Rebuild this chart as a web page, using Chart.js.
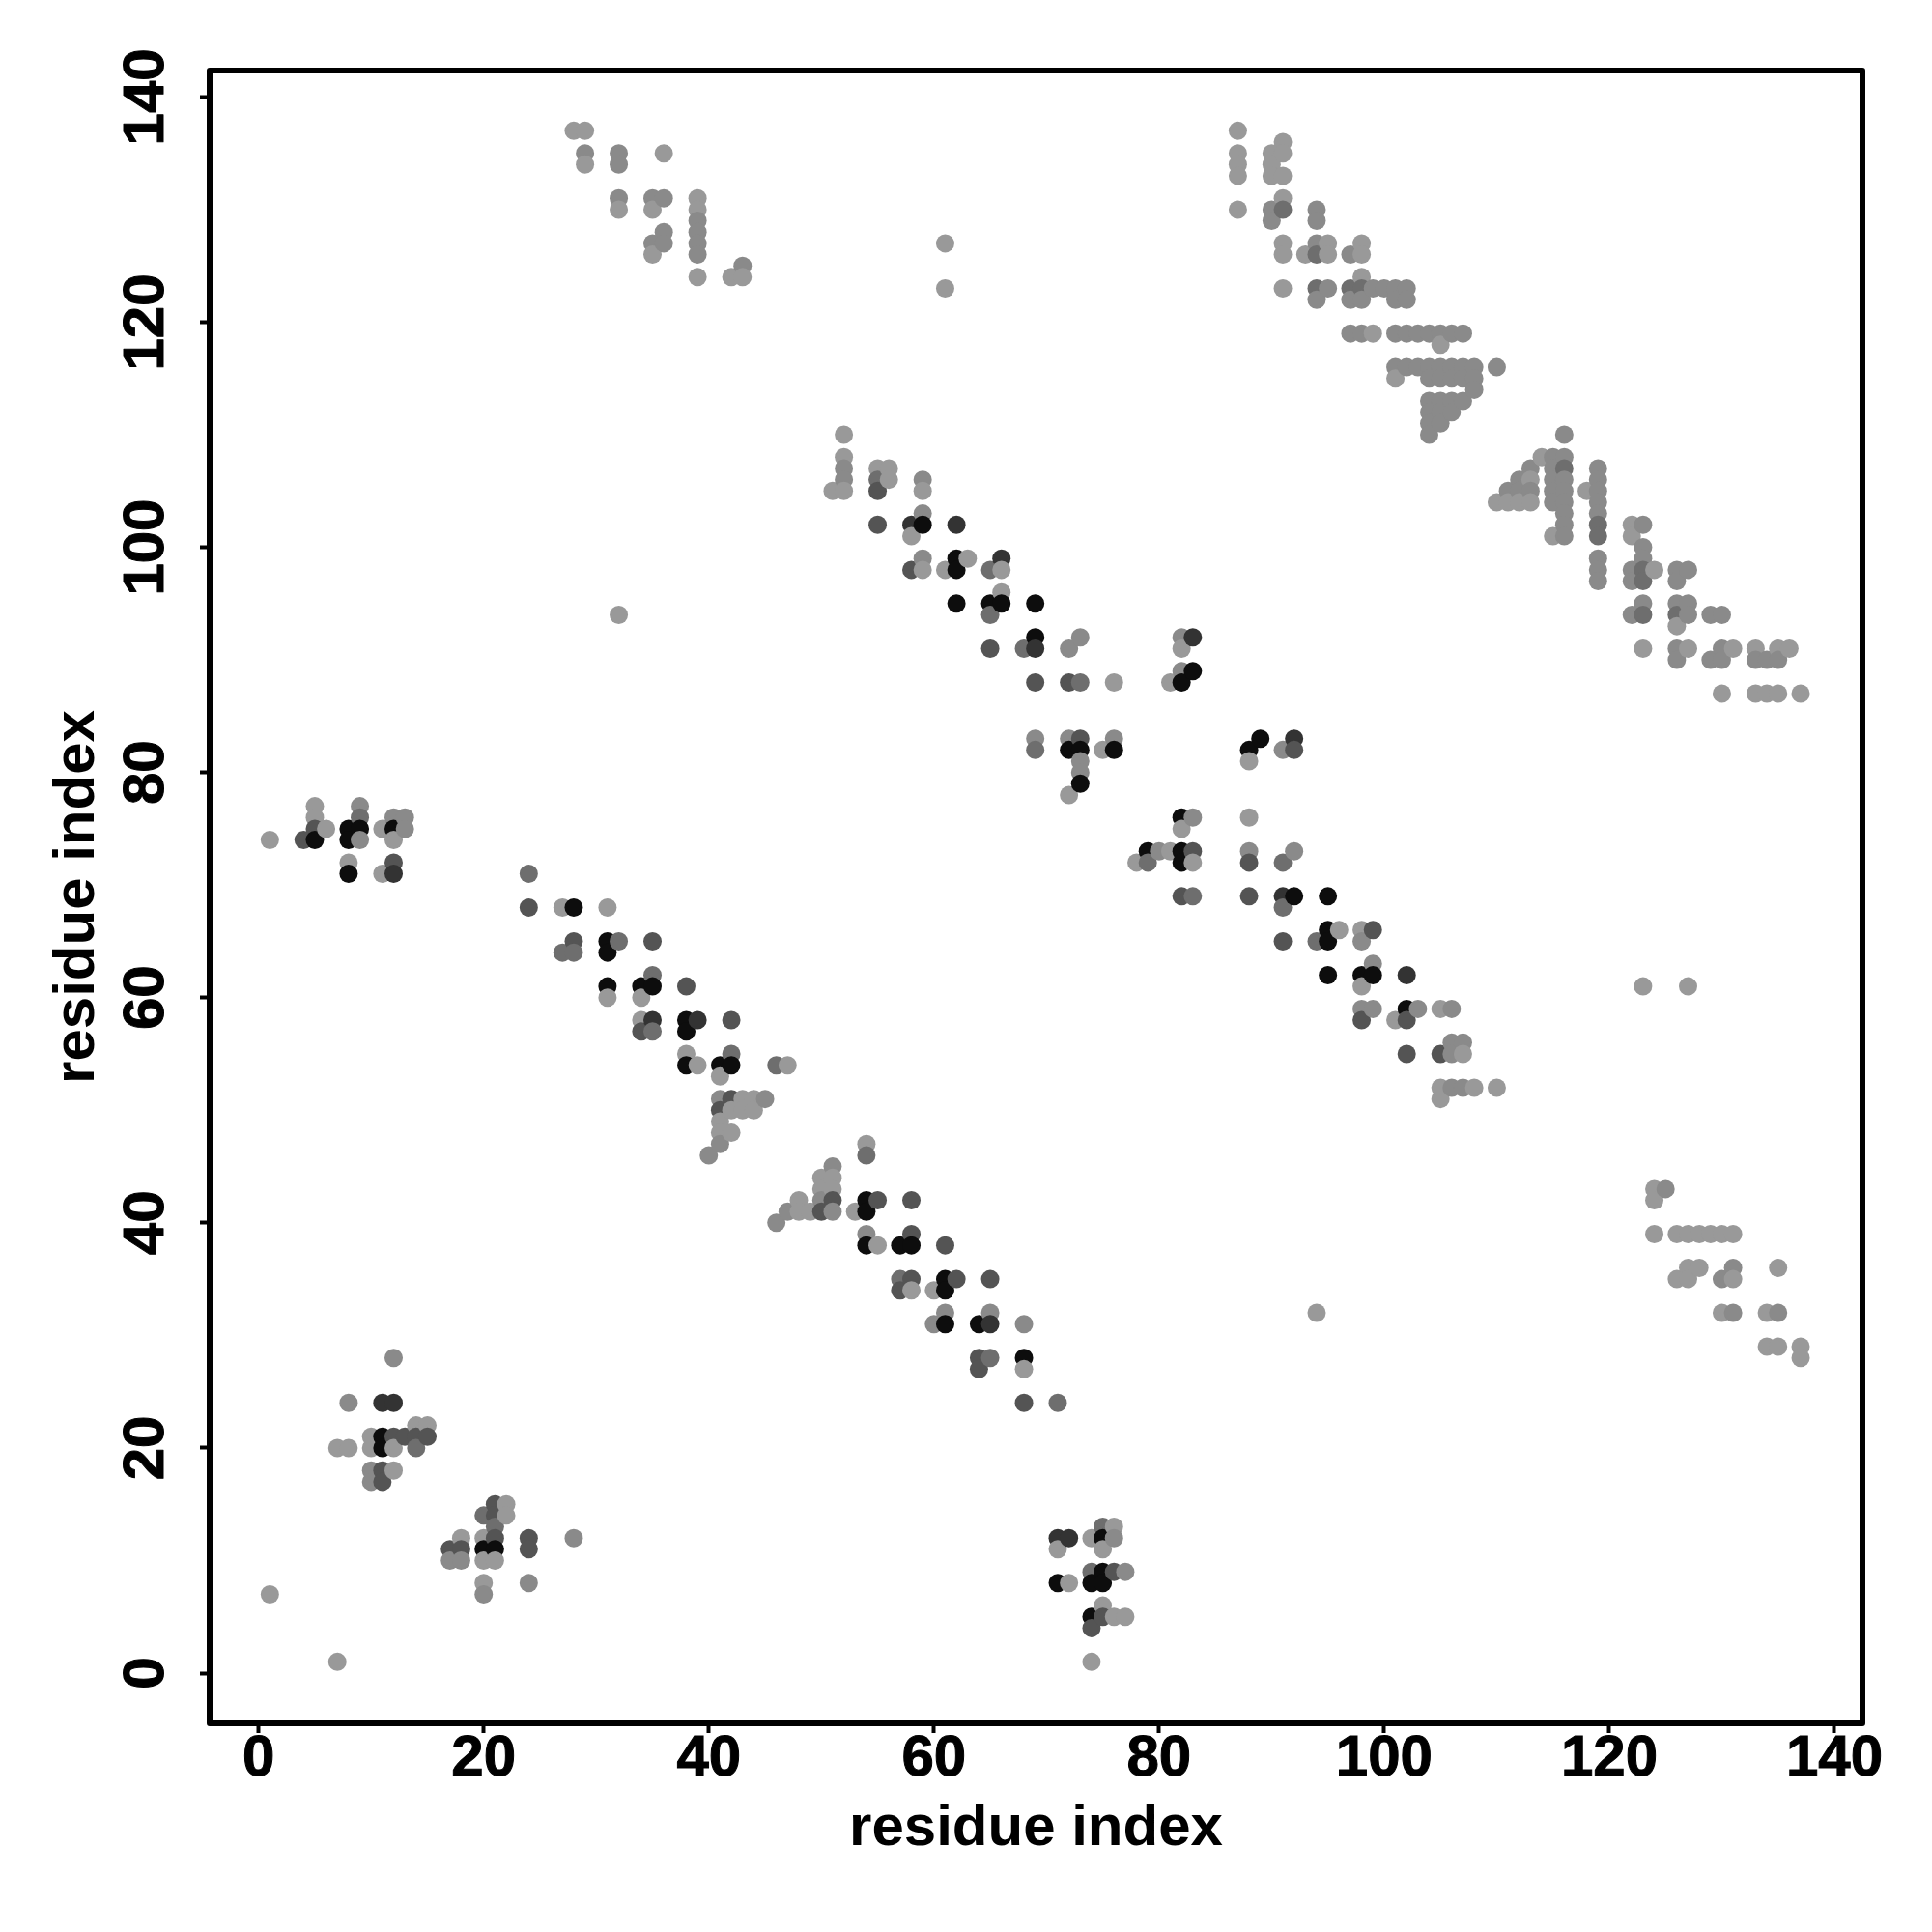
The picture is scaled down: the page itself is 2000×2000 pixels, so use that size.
<!DOCTYPE html>
<html>
<head>
<meta charset="utf-8">
<style>
  html, body { margin: 0; padding: 0; background: #fff; }
  canvas { display: block; }
</style>
<script src="https://cdn.jsdelivr.net/npm/chart.js@4"></script>
</head>
<body>
<canvas id="grafico" width="2000" height="2000"></canvas>
<script>
// contact map points [residue x, residue y], grouped by how dark they are in the picture
const contactosFaint = [
  [28,137],[29,137],[29,134],[32,130],[35,130],[35,126],[36,135],[39,131],[39,130],[39,124],[42,124],[43,124],[61,127],[61,123],[32,94],
  [1,74],[1,7],[7,1],[5,77],[5,76],[6,75],[11,75],[8,72],[11,71],[12,74],[27,68],[31,68],
  [52,110],[52,108],[51,105],[52,105],[56,107],[56,106],[55,107],[59,105],[58,101],[59,98],[61,98],[63,99],[66,98],[66,96],
  [76,88],[82,91],[81,88],[72,78],[75,82],[88,81],[82,75],[81,73],[78,72],[83,72],[88,76],[96,66],[98,66],[98,61],[101,58],
  [105,59],[107,55],[105,52],[105,51],[108,52],[110,52],[34,60],[31,60],[34,58],[38,55],[39,54],[47,54],[41,53],[43,51],[44,51],
  [42,50],[43,50],[44,50],[41,49],[41,48],[42,48],[50,44],[51,44],[50,43],[51,43],[48,42],[48,41],[49,41],[53,41],[54,47],[55,38],
  [58,34],[60,34],[68,27],[123,61],[127,61],[94,32],[124,43],[124,42],[124,39],[126,39],[127,39],[128,39],[129,39],[130,39],[131,39],
  [127,36],[128,36],[135,36],[126,35],[127,35],[131,35],[130,32],[134,32],[134,29],[135,29],[137,29],[137,28],
  [71,11],[72,8],[74,12],[75,11],[75,6],[76,5],[77,5],[76,13],[74,1],
  [14,22],[15,22],[10,21],[7,20],[8,20],[10,20],[12,20],[12,18],[22,15],[22,14],[18,12],[20,12],[20,10],[21,10],[20,8],
  [87,137],[87,135],[87,134],[87,133],[87,130],[90,135],[90,134],[90,133],[91,136],[91,135],[91,133],[91,131],[91,127],[91,126],
  [93,126],[95,127],[95,126],[98,127],[98,126],[98,124],[91,123],[99,119],[101,115],[105,118],
  [114,108],[113,106],[110,104],[111,104],[112,104],[113,104],[115,101],[118,105],
  [123,91],[122,102],[123,102],[122,101],[124,98],[126,93],[127,91],[131,91],[133,91],[135,91],[136,91],[130,87],[133,87],[134,87],[135,87],[137,87]
];
const contactosPale = [
  [29,135],[32,135],[32,134],[32,131],[35,131],[36,131],[39,129],[39,128],[39,127],[39,126],[36,128],[36,127],[35,127],[43,125],
  [52,107],[52,106],[59,106],[59,103],[59,99],[73,92],[76,83],[72,83],[69,83],[73,81],[73,80],[83,76],[88,73],[92,73],[91,82],[80,73],
  [79,72],[82,89],[82,92],[98,65],[99,63],[98,59],[99,59],[103,59],[106,59],[106,56],[107,56],[106,55],[106,52],[107,52],
  [12,28],[8,24],[24,8],[28,12],[20,7],[10,18],[10,17],[14,20],[17,10],[18,10],[12,76],[13,76],[13,75],[9,74],[9,77],
  [41,51],[41,47],[40,46],[46,40],[47,41],[50,42],[51,41],[51,45],[45,51],[54,39],[61,32],[60,31],[65,32],[68,31],[72,91],[65,98],
  [75,13],[76,12],[77,9],[125,43],[131,36],[130,35],[131,32],[135,32],[71,24],[119,107],[119,106],[119,105],[119,103],[119,99],[119,98],[119,97],
  [90,130],[90,129],[94,130],[94,129],[94,127],[97,126],[95,123],[94,122],[97,122],[98,122],[99,123],[100,123],[101,123],[102,123],[101,122],[102,122],
  [97,119],[98,119],[101,119],[102,119],[103,119],[104,119],[105,119],[106,119],[107,119],
  [101,116],[102,116],[103,116],[104,116],[105,116],[106,116],[107,116],[108,116],[110,116],[104,115],[105,115],[106,115],[107,115],[108,115],[108,114],
  [104,113],[105,113],[106,113],[107,113],[104,112],[105,112],[106,112],[104,111],[105,111],[104,110],
  [116,110],[115,108],[116,108],[113,107],[115,107],[119,104],[112,106],[115,106],[116,106],[111,105],[112,105],[113,105],[115,105],[116,105],
  [115,104],[116,104],[116,103],[116,102],[116,101],[122,98],[123,102],[123,100],[123,99],[122,97],[126,98],[127,98],[126,97],[123,95],[126,95],[127,95],
  [122,94],[127,94],[129,94],[130,94],[126,91],[130,91],[126,90],[129,90],[130,90],[133,90],[134,90],[135,90]
];
const contactosMid = [
  [55,106],[24,71],[69,82],[65,98],[95,66],[94,65],[98,58],[105,55],[64,28],[65,28],[71,24],[74,9],[76,9],[75,13],
  [35,62],[46,54],[54,46],[42,55],[14,20],[13,21],[12,21],[21,13],[20,14],[91,68],[91,72],[92,82],[73,88],[65,94],[83,69],[79,72],
  [28,64],[32,65],[27,64],[35,57],[57,35],[9,76],[94,123],[94,126],[97,123],[98,123],[123,97],[123,98],[123,94],[126,94],[116,107],[119,102],[119,101],
  [68,91],[91,130]
];
const contactosDark = [
  [55,105],[55,102],[58,98],[66,99],[65,91],[69,88],[72,88],[69,91],[82,69],[88,72],[88,69],[83,73],[91,65],[99,66],[98,58],[102,58],[102,55],[105,55],
  [4,74],[5,75],[12,72],[12,71],[24,68],[28,65],[31,65],[35,65],[38,61],[35,58],[39,58],[42,58],[34,57],[41,50],[42,51],[51,42],[50,41],[55,42],[58,42],[58,39],
  [57,34],[62,35],[65,35],[61,38],[64,27],[68,24],[74,4],[75,5],[76,9],[17,11],[18,11],[21,12],[21,14],[21,15],[24,11],[24,12],[11,18],[11,17],[13,21],[14,21],[15,21],
  [11,24],[12,24],[58,35],[92,82],[12,21],[64,28],[73,83]
];
const contactosDeep = [
  [58,102],[62,102],[66,99],[69,91],[83,92],[91,69],[102,62],[57,38],[54,41],[41,54],[39,58],[31,64],[35,58],[58,38],[8,75],[8,74],[12,71],[11,24],[12,24],[65,31],[11,20],
  [92,83],[71,12],[72,12]
];
const contactosBlack = [
  [59,102],[62,99],[62,98],[62,95],[65,95],[66,95],[69,95],[69,92],[83,89],[82,88],[72,82],[73,82],[76,82],[73,79],[88,82],[89,83],
  [82,76],[79,73],[82,73],[82,72],[92,69],[95,69],[95,66],[95,65],[95,62],[98,62],[99,62],[102,59],
  [5,74],[8,75],[9,75],[8,74],[12,75],[8,71],[28,68],[31,65],[31,64],[31,61],[34,61],[35,61],[38,58],[38,57],[38,54],[41,54],[42,54],
  [54,42],[54,41],[54,38],[57,38],[58,38],[61,35],[61,34],[61,31],[64,31],[68,28],[71,8],[74,8],[75,8],[75,9],[75,12],[74,5],
  [11,21],[11,20],[20,11],[21,11]
];

const gruposContacto = [contactosFaint, contactosPale, contactosMid, contactosDark, contactosDeep, contactosBlack];
const colorGrupo = ['#999999', '#8a8a8a', '#6e6e6e', '#545454', '#333333', '#0d0d0d'];
const ticksEje = [0, 20, 40, 60, 80, 100, 120, 140];
const tituloEje = 'residue index';
const fuente = '"Liberation Sans", Arial, sans-serif';

// later groups overwrite earlier ones at the same cell, then sort so the right hand dots land on top
const celdas = new Map();
gruposContacto.forEach((grupo, g) => {
  grupo.forEach(([x, y]) => celdas.set(x + '_' + y, {x, y, g}));
});
const puntos = [...celdas.values()].sort((a, b) => a.x - b.x || b.y - a.y);

const marcoYTicks = {
  id: 'marcoYTicks',
  afterDraw(chart) {
    const {ctx, chartArea, scales} = chart;
    ctx.save();
    ctx.strokeStyle = '#000';
    ctx.lineWidth = 6;
    ctx.lineJoin = 'round';
    ctx.strokeRect(chartArea.left, chartArea.top, chartArea.right - chartArea.left, chartArea.bottom - chartArea.top);
    ctx.fillStyle = '#000';
    ctx.lineWidth = 1;
    ctx.font = 'bold 60px ' + fuente;
    ctx.textAlign = 'center';
    ctx.textBaseline = 'middle';
    ticksEje.forEach(t => {
      ctx.save();
      ctx.translate(152, scales.y.getPixelForValue(t));
      ctx.rotate(-Math.PI / 2);
      ctx.fillText(String(t), 0, 0);
      ctx.strokeText(String(t), 0, 0);
      ctx.restore();
    });
    ctx.restore();
  }
};

const ejeComun = {
  type: 'linear',
  grid: {display: true, drawOnChartArea: false, drawTicks: true, tickLength: 10, tickWidth: 4, tickColor: '#000'},
  border: {display: false},
  afterBuildTicks(scale) { scale.ticks = ticksEje.map(v => ({value: v})); }
};

new Chart(document.getElementById('grafico').getContext('2d'), {
  type: 'scatter',
  data: {
    datasets: [{
      data: puntos,
      pointRadius: 9.5,
      pointHoverRadius: 9.5,
      borderWidth: 0,
      pointBackgroundColor: ctx => colorGrupo[ctx.raw.g]
    }]
  },
  options: {
    responsive: false,
    animation: false,
    devicePixelRatio: 1,
    layout: {padding: {top: 73, right: 72, left: 0, bottom: 0}},
    plugins: {legend: {display: false}, tooltip: {enabled: false}},
    scales: {
      x: {
        ...ejeComun,
        min: -4.35,
        max: 142.49,
        afterFit(scale) { scale.height = 216; },
        ticks: {
          autoSkip: false, maxRotation: 0, minRotation: 0, color: '#000', padding: -9,
          textStrokeColor: '#000', textStrokeWidth: 1,
          font: {family: fuente, size: 60, weight: 'bold'}
        },
        title: {
          display: true, text: tituloEje, color: '#000',
          font: {family: fuente, size: 60, weight: 'bold', lineHeight: 1},
          padding: {top: 0, bottom: 77}
        }
      },
      y: {
        ...ejeComun,
        min: -4.46,
        max: 142.35,
        afterFit(scale) { scale.width = 217; },
        ticks: {display: false},
        title: {
          display: true, text: tituloEje, color: '#000',
          font: {family: fuente, size: 60, weight: 'bold', lineHeight: 1},
          padding: {top: 50, bottom: 0}
        }
      }
    }
  },
  plugins: [marcoYTicks]
});
</script>
</body>
</html>
